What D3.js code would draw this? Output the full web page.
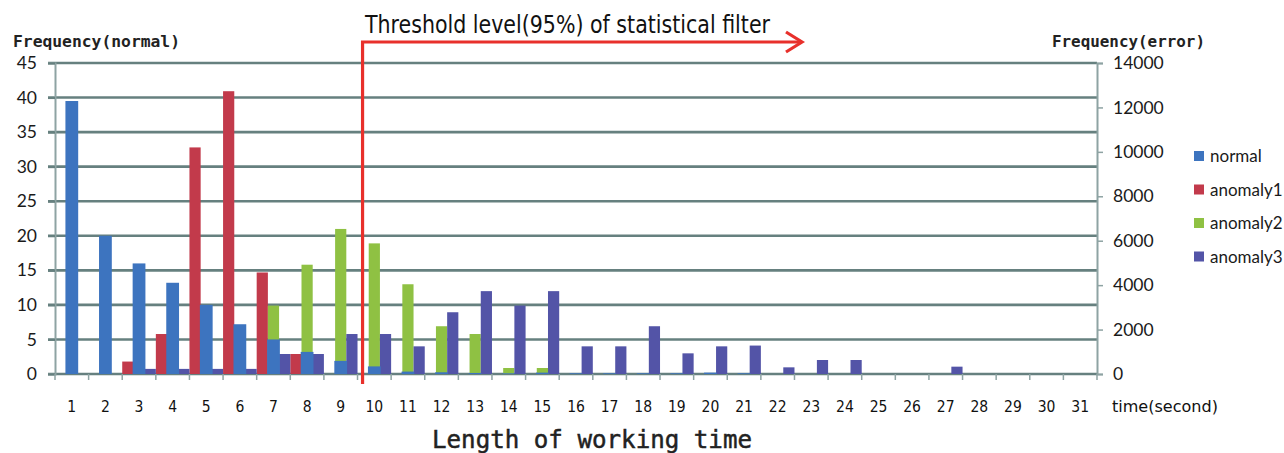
<!DOCTYPE html>
<html>
<head>
<meta charset="utf-8">
<script src="https://cdn.jsdelivr.net/npm/d3@7/dist/d3.min.js"></script>
<style>
  html, body { margin: 0; padding: 0; background: #ffffff; }
  svg { display: block; }
</style>
</head>
<body>
<svg id="chart" width="1284" height="453"></svg>
<script>
// Working-time histogram: normal runs (left axis) vs. three anomaly types (right axis)
const categories = ["1","2","3","4","5","6","7","8","9","10","11","12","13","14","15","16",
  "17","18","19","20","21","22","23","24","25","26","27","28","29","30","31"];

// Frequency of normal runs (left axis)
const normal = [39.5, 20, 16, 13.2, 10, 7.2, 5, 3.2, 1.9, 1.1, 0.35, 0.25, 0.15, 0.1, 0.2, 0.1,
  0.1, 0.1, 0.1, 0.2, 0.1, 0, 0, 0, 0, 0, 0, 0, 0, 0, 0];

// Frequency of error runs (right axis)
const anomaly1 = [0, 0, 560, 1800, 10200, 12730, 4570, 900, 0, 0, 0, 0, 0, 0, 0, 0,
  0, 0, 0, 0, 0, 0, 0, 0, 0, 0, 0, 0, 0, 0, 0];
const anomaly2 = [0, 0, 0, 0, 0, 0, 3080, 4920, 6530, 5880, 4040, 2150, 1800, 270, 270, 0,
  0, 0, 0, 0, 0, 0, 0, 0, 0, 0, 0, 0, 0, 0, 0];
const anomaly3 = [0, 0, 230, 230, 230, 230, 900, 900, 1800, 1800, 1245, 2780, 3730, 3080, 3730, 1245,
  1245, 2150, 930, 1245, 1280, 300, 630, 630, 0, 0, 330, 0, 0, 0, 0];

const leftTicks = [0, 5, 10, 15, 20, 25, 30, 35, 40, 45];
const rightTicks = [0, 2000, 4000, 6000, 8000, 10000, 12000, 14000];

const seriesNames = ["normal", "anomaly1", "anomaly2", "anomaly3"];
const errorSeries = ["anomaly1", "anomaly2", "anomaly3"];
const errorValues = { anomaly1, anomaly2, anomaly3 };

// Threshold of the statistical filter, in seconds along the time axis
const thresholdAt = 9.65;

const colors = {
  normal: "#3d74bf",
  anomaly1: "#c23a4b",
  anomaly2: "#8fc143",
  anomaly3: "#5354a7"
};
const gridColor = "#66807f";
const axisColor = "#8ea3a3";
const red = "#e8302b";

const svg = d3.select("#chart");

const plot = { left: 55, right: 1097, top: 63, bottom: 374 };

const x = d3.scaleBand().domain(categories).range([plot.left, plot.right]).padding(0);
const xSub = d3.scaleBand().domain(errorSeries).range([0, x.bandwidth()]).padding(0);
const xTime = d3.scaleLinear().domain([0.5, categories.length + 0.5]).range([plot.left, plot.right]);
const yL = d3.scaleLinear().domain([0, 45]).range([plot.bottom, plot.top]);
const yR = d3.scaleLinear().domain([0, 14000]).range([plot.bottom, plot.top]);

// Horizontal gridlines on the left-axis ticks
svg.append("g")
  .selectAll("line")
  .data(leftTicks)
  .join("line")
  .attr("x1", plot.left - 7)
  .attr("x2", plot.right)
  .attr("y1", d => yL(d))
  .attr("y2", d => yL(d))
  .attr("stroke", gridColor)
  .attr("stroke-width", 2.6);

// Error series, grouped side by side in each second
const errG = svg.append("g");
errorSeries.forEach(name => {
  errG.append("g")
    .selectAll("rect")
    .data(errorValues[name].map((v, i) => ({ cat: categories[i], v })))
    .join("rect")
    .attr("x", d => x(d.cat) + xSub(name))
    .attr("width", xSub.bandwidth())
    .attr("y", d => yR(d.v))
    .attr("height", d => yR(0) - yR(d.v))
    .attr("fill", colors[name]);
});

// Normal series, centred in each second and drawn in front
const normalWidth = x.bandwidth() * 0.38;
svg.append("g")
  .selectAll("rect")
  .data(normal.map((v, i) => ({ cat: categories[i], v })))
  .join("rect")
  .attr("x", d => x(d.cat) + (x.bandwidth() - normalWidth) / 2)
  .attr("width", normalWidth)
  .attr("y", d => yL(d.v))
  .attr("height", d => yL(0) - yL(d.v))
  .attr("fill", colors.normal);

// Left axis
const leftAxis = svg.append("g")
  .attr("transform", `translate(${plot.left},0)`)
  .call(d3.axisLeft(yL).tickValues(leftTicks).tickSize(7).tickPadding(11));
leftAxis.select(".domain").attr("stroke", axisColor).attr("stroke-width", 2);
leftAxis.selectAll(".tick line").attr("stroke", gridColor).attr("stroke-width", 2);
leftAxis.selectAll(".tick text")
  .attr("font-family", "Lato, 'Open Sans', sans-serif")
  .attr("font-size", 17.5)
  .attr("fill", "#1a1a1a");

// Right axis
const rightAxis = svg.append("g")
  .attr("transform", `translate(${plot.right},0)`)
  .call(d3.axisRight(yR).tickValues(rightTicks).tickSize(6).tickPadding(10).tickFormat(d3.format("d")));
rightAxis.select(".domain").attr("stroke", axisColor).attr("stroke-width", 2);
rightAxis.selectAll(".tick line").attr("stroke", axisColor).attr("stroke-width", 1.5);
rightAxis.selectAll(".tick text")
  .attr("font-family", "Lato, 'Open Sans', sans-serif")
  .attr("font-size", 17.5)
  .attr("fill", "#1a1a1a");

// Bottom axis: tick marks between seconds, labels under each second
const bottom = svg.append("g");
bottom.selectAll("line")
  .data(categories.concat(["end"]))
  .join("line")
  .attr("x1", (d, i) => plot.left + i * x.step())
  .attr("x2", (d, i) => plot.left + i * x.step())
  .attr("y1", plot.bottom)
  .attr("y2", plot.bottom + 6)
  .attr("stroke", axisColor)
  .attr("stroke-width", 1.5);
bottom.selectAll("text")
  .data(categories)
  .join("text")
  .attr("x", d => x(d) + x.bandwidth() / 2)
  .attr("y", 412)
  .attr("text-anchor", "middle")
  .attr("font-family", "'DejaVu Sans Condensed', 'Liberation Sans Narrow', sans-serif")
  .attr("font-stretch", "condensed")
  .attr("font-size", 15.5)
  .attr("fill", "#111")
  .text(d => d);

svg.append("text")
  .attr("x", 1112)
  .attr("y", 412)
  .attr("font-family", "'DejaVu Sans Condensed', 'Liberation Sans Narrow', sans-serif")
  .attr("font-stretch", "condensed")
  .attr("font-size", 15.5)
  .attr("fill", "#111")
  .attr("textLength", 106)
  .attr("lengthAdjust", "spacingAndGlyphs")
  .text("time(second)");

// Axis titles
svg.append("text")
  .attr("x", 13)
  .attr("y", 47)
  .attr("font-family", "'DejaVu Sans Mono', monospace")
  .attr("font-size", 15)
  .attr("font-weight", "bold")
  .attr("fill", "#222")
  .attr("textLength", 167)
  .attr("lengthAdjust", "spacingAndGlyphs")
  .text("Frequency(normal)");

svg.append("text")
  .attr("x", 1052)
  .attr("y", 47)
  .attr("font-family", "'DejaVu Sans Mono', monospace")
  .attr("font-size", 15)
  .attr("font-weight", "bold")
  .attr("fill", "#222")
  .attr("textLength", 153)
  .attr("lengthAdjust", "spacingAndGlyphs")
  .text("Frequency(error)");

svg.append("text")
  .attr("x", 432)
  .attr("y", 448)
  .attr("font-family", "'DejaVu Sans Mono', monospace")
  .attr("font-size", 25)
  .attr("fill", "#222")
  .attr("stroke", "#222")
  .attr("stroke-width", 0.5)
  .attr("textLength", 320)
  .attr("lengthAdjust", "spacingAndGlyphs")
  .text("Length of working time");

// Legend
const legend = svg.append("g");
seriesNames.forEach((name, i) => {
  const cy = 156 + i * 33.5;
  legend.append("rect")
    .attr("x", 1194)
    .attr("y", cy - 5)
    .attr("width", 10)
    .attr("height", 10)
    .attr("fill", colors[name]);
  legend.append("text")
    .attr("x", 1210)
    .attr("y", cy + 6)
    .attr("font-family", "Lato, 'Open Sans', sans-serif")
    .attr("font-size", 17)
    .attr("fill", "#1a1a1a")
    .text(name);
});

// Threshold marker with arrow pointing toward longer working times
const tx = xTime(thresholdAt);
const ty = 42;
const arrowEnd = 802;
const marker = svg.append("g")
  .attr("fill", "none")
  .attr("stroke", red)
  .attr("stroke-width", 3.2);
marker.append("path")
  .attr("d", `M${tx},${plot.bottom + 10}V${ty}H${arrowEnd}`);
marker.append("path")
  .attr("d", `M${arrowEnd - 16},${ty - 10}L${arrowEnd},${ty}L${arrowEnd - 16},${ty + 10}`)
  .attr("stroke-linejoin", "miter");

svg.append("text")
  .attr("x", 365)
  .attr("y", 33)
  .attr("font-family", "'DejaVu Sans Condensed', 'Liberation Sans Narrow', sans-serif")
  .attr("font-stretch", "condensed")
  .attr("font-size", 25)
  .attr("fill", "#111")
  .attr("textLength", 405)
  .attr("lengthAdjust", "spacingAndGlyphs")
  .text("Threshold level(95%) of statistical filter");
</script>
</body>
</html>
